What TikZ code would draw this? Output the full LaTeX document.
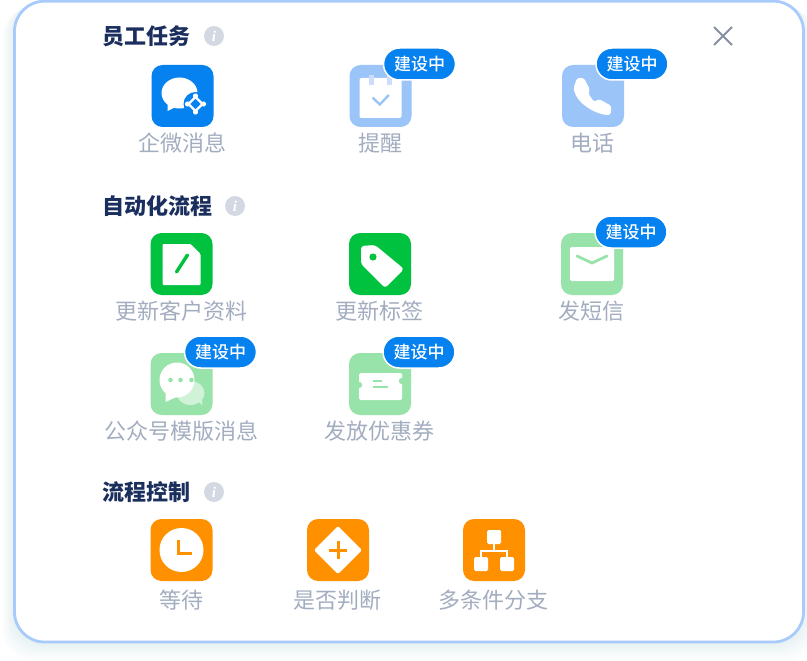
\documentclass[tikz,border=0pt]{standalone}
\usepackage{fontspec}
\setmainfont{Noto Sans CJK SC}
\newfontfamily\infofont{Liberation Serif}
\newfontfamily\badgefont{Noto Sans CJK SC Medium}
\usetikzlibrary{positioning}
\definecolor{panelline}{HTML}{A8CBFB}
\definecolor{panelshade}{HTML}{7FA8F0}
\definecolor{headtext}{HTML}{1B2F5E}
\definecolor{itemtext}{HTML}{A3ADC0}
\definecolor{infogrey}{HTML}{D3D8E2}
\definecolor{closegrey}{HTML}{8690A3}
\definecolor{bluefull}{HTML}{0581F0}
\definecolor{bluesoft}{HTML}{9BC4F9}
\definecolor{greenfull}{HTML}{00C23F}
\definecolor{greensoft}{HTML}{97E3A9}
\definecolor{orangefull}{HTML}{FF9100}
\tikzset{
  itembox/.style={minimum size=62pt,inner sep=0pt,rounded corners=11pt,fill=#1},
  itemname/.style={inner sep=0pt,text=itemtext,font=\fontsize{22}{22}\selectfont},
  headname/.style={inner sep=0pt,anchor=west,text=headtext,font=\fontsize{22}{22}\selectfont\bfseries},
  infodot/.style={circle,fill=infogrey,minimum size=20pt,inner sep=0pt,text=white,font=\infofont\fontsize{15}{15}\selectfont\bfseries\itshape},
  badgebox/.style={rounded corners=16pt,minimum width=72pt,minimum height=32pt,inner sep=0pt,fill=bluefull,draw=white,line width=1.5pt,text=white,font=\badgefont\fontsize{17}{17}\selectfont},
}
\begin{document}
\begin{tikzpicture}[x=1pt,y=-1pt]
        \useasboundingbox (0,0) rectangle (807,661);
        \fill[white] (0,0) rectangle (807,661);
        % soft shade round the panel
        \foreach \i in {1,...,12}{
            \fill[panelshade,opacity=0.012,rounded corners=30pt] (14.5-\i,1+0.5*\i) rectangle (803.5+\i,642+1.5*\i);
          }
        \draw[panelline,line width=2.8pt,fill=white,rounded corners=30pt] (14.5,1.2) rectangle (803.5,642);
        % close mark
        \draw[closegrey,line width=2pt] (714,27) -- (732,45) (732,27) -- (714,45);
        % section heads
        \foreach \nm/\py/\gap/\txt in {staff/36/111/员工任务,auto/206/132/自动化流程,flow/492/111/流程控制}{
            \node[headname] (head\nm) at (102.5,\py) {\txt};
            \node[infodot] (info\nm) at (103+\gap,\py) {i};
          }
        % icons with their names
        \foreach \nm/\px/\py/\down/\col/\txt in {
            wework/182.5/96/47/bluefull/企微消息,remind/380.5/96/47/bluesoft/提醒,phone/593/96/47/bluesoft/电话,
            profile/181.5/264/47/greenfull/更新客户资料,tag/380/264/47/greenfull/更新标签,sms/592/264/47/greensoft/发短信,
            wechat/181.5/384/47/greensoft/公众号模版消息,coupon/380/384/47/greensoft/发放优惠券,
            wait/181.5/550/50/orangefull/等待,judge/338/550/50/orangefull/是否判断,branch/494/550/50/orangefull/多条件分支}{
            \node[itembox=\col] (\nm) at (\px,\py) {};
            \node[itemname] (\nm text) at ([xshift=-0.5pt,yshift=-\down pt]\nm.center) {\txt};
          }
        % wework
        \begin{scope}[shift={(wework.center)}]
          \fill[white] (-3,-3) ellipse [x radius=18,y radius=15.5];
          \fill[white] (-15,3) -- (-15,15) -- (-5,10) -- cycle;
          \fill[bluefull] (13,8) circle (12);
          \draw[white,line width=2.4pt] (13,1) -- (20,8) -- (13,15) -- (6,8) -- cycle;
          \foreach \a in {0,90,180,270}{
              \fill[white] (13,8) ++(\a:8) circle (2.6);
            }
        \end{scope}
        % remind
        \begin{scope}[shift={(remind.center)}]
          \fill[white,rounded corners=2pt] (-21,-18) rectangle (21,22);
          \fill[blue!8!bluesoft!45!white] (-11.5,-21) rectangle (-6.5,-11);
          \fill[blue!8!bluesoft!45!white] (6.5,-21) rectangle (11.5,-11);
          \draw[bluesoft,line width=2.4pt] (-8,1.5) -- (-0.7,8.5) -- (8.3,-1);
        \end{scope}
        % phone
        \begin{scope}[shift={(phone.center)}]
          \fill[white,rounded corners=2.5pt] (-16,-18) -- (-9,-18) -- (-3,-6) -- (-5,-3) -- (1,6) -- (6,3) -- (18.5,10) -- (17.5,19)
            .. controls (4,19) and (-16,8) .. (-19.5,-8) -- cycle;
        \end{scope}
        % profile
        \begin{scope}[shift={(profile.center)}]
          \fill[white,rounded corners=1pt] (-19,-20) -- (9,-20) -- (19,-10) -- (19,21) -- (-19,21) -- cycle;
          \draw[greenfull,line width=3.4pt,line cap=round] (-5,8) -- (6,-9);
        \end{scope}
        % tag
        \begin{scope}[shift={(tag.center)}]
          \fill[white,rounded corners=3pt] (-19,-18) -- (-5,-19) -- (24,5) -- (5,24) -- (-19,0) -- cycle;
          \fill[greenfull] (-7,-7) circle (3.6);
        \end{scope}
        % sms
        \begin{scope}[shift={(sms.center)}]
          \fill[white,rounded corners=1.5pt] (-22,-17) rectangle (22,17);
          \draw[greensoft,line width=2.8pt,line cap=round] (-15,-8) -- (0,-1) -- (15,-8);
        \end{scope}
        % wechat
        \begin{scope}[shift={(wechat.center)}]
          \fill[white!55!greensoft] (9,9) ellipse [x radius=14,y radius=12];
          \fill[white!55!greensoft] (14,16) -- (21,21) -- (20,8) -- cycle;
          \fill[white] (-4.5,-4) ellipse [x radius=17.5,y radius=17.5];
          \fill[white] (-16,6) -- (-16,18) -- (-3,12) -- cycle;
          \foreach \dx in {-11,-1,10}{
              \fill[greensoft] (\dx,-4) circle (2.3);
            }
        \end{scope}
        % coupon
        \begin{scope}[shift={(coupon.center)}]
          \fill[white,rounded corners=1.5pt] (-21,-11) rectangle (22,16);
          \fill[greensoft] (-21,1) circle (3.2) (22,-3) circle (3.2);
          \draw[greensoft,line width=2.6pt] (-7,-3) -- (2,-3) (-7,3) -- (8,3);
        \end{scope}
        % wait
        \begin{scope}[shift={(wait.center)}]
          \fill[white] (0,0) circle (22);
          \draw[orangefull,line width=3pt] (-3,-10) -- (-3,3) -- (10,3);
        \end{scope}
        % judge
        \begin{scope}[shift={(judge.center)}]
          \fill[white,rounded corners=2pt] (0,-24) -- (24,0) -- (0,24) -- (-24,0) -- cycle;
          \draw[orangefull,line width=3pt] (-9,0) -- (9,0) (0,-9) -- (0,9);
        \end{scope}
        % branch
        \begin{scope}[shift={(branch.center)}]
          \fill[white,rounded corners=1.5pt] (-7,-20) rectangle (7,-6);
          \fill[white,rounded corners=1.5pt] (-20,7) rectangle (-6,21);
          \fill[white,rounded corners=1.5pt] (6,7) rectangle (20,21);
          \draw[white,line width=2pt] (0,-6) -- (0,1) (-13,7) -- (-13,1) -- (13,1) -- (13,7);
        \end{scope}
        % badges on top
        \foreach \nm in {remind,phone,sms,wechat,coupon}{
            \node[badgebox] (\nm badge) at ([xshift=39pt,yshift=32pt]\nm.center) {建设中};
          }
      \end{tikzpicture}
\end{document}
